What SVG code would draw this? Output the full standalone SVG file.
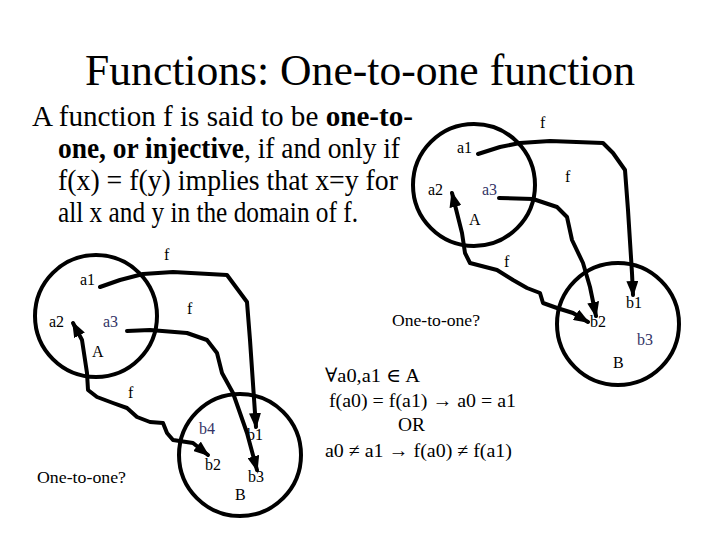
<svg xmlns="http://www.w3.org/2000/svg" width="720" height="540" viewBox="0 0 720 540">
<style>
text{font-family:"Liberation Serif","Tinos","Times New Roman","DejaVu Serif","Noto Serif",serif;fill:#000}
.title{font-size:44px}
.body{font-size:28.5px}
.lbl{font-size:16px}
.nv{fill:#333366}
.math{font-size:19.5px}
.q{font-size:17px}
.set{fill:none;stroke:#000;stroke-width:4}
.arr{fill:none;stroke:#000;stroke-width:4;stroke-linejoin:round;stroke-linecap:round}
</style>
<defs>
<marker id="ah" markerUnits="userSpaceOnUse" markerWidth="16" markerHeight="12" refX="14" refY="6" orient="auto-start-reverse" viewBox="0 0 16 12">
<path d="M0,0 L16,6 L0,12 Z" fill="#000"/>
</marker>
</defs>
<rect width="720" height="540" fill="#fff"/>
<text class="title" x="85" y="85" textLength="550" lengthAdjust="spacingAndGlyphs">Functions: One-to-one function</text>
<g id="definition">
<text class="body" x="32" y="126" textLength="381" lengthAdjust="spacingAndGlyphs">A function f is said to be <tspan font-weight="bold">one-to-</tspan></text>
<text class="body" x="58" y="158" textLength="342" lengthAdjust="spacingAndGlyphs"><tspan font-weight="bold">one, or injective</tspan>, if and only if</text>
<text class="body" x="58" y="190" textLength="340" lengthAdjust="spacingAndGlyphs">f(x) = f(y) implies that x=y for</text>
<text class="body" x="58" y="222" textLength="300" lengthAdjust="spacingAndGlyphs">all x and y in the domain of f.</text>
</g>
<g id="formula">
<text class="math" x="325" y="382" textLength="95" lengthAdjust="spacingAndGlyphs">∀a0,a1 ∈ A</text>
<text class="math" x="329" y="407" textLength="187" lengthAdjust="spacingAndGlyphs">f(a0) = f(a1) → a0 = a1</text>
<text class="math" x="398" y="431" textLength="27" lengthAdjust="spacingAndGlyphs">OR</text>
<text class="math" x="325" y="457" textLength="187" lengthAdjust="spacingAndGlyphs">a0 ≠ a1 → f(a0) ≠ f(a1)</text>
</g>
<g id="left-A">
<circle class="set" cx="96" cy="316" r="61"/>
<text class="lbl" x="80" y="285">a1</text>
<text class="lbl" x="49" y="327">a2</text>
<text class="lbl nv" x="103" y="327">a3</text>
<text class="lbl" x="92" y="357">A</text>
</g>
<g id="left-B">
<circle class="set" cx="240" cy="455" r="61"/>
<text class="lbl nv" x="199" y="434">b4</text>
<text class="lbl" x="247" y="440">b1</text>
<text class="lbl" x="205" y="470">b2</text>
<text class="lbl" x="248" y="482">b3</text>
<text class="lbl" x="235" y="500">B</text>
</g>
<g id="left-question"><text class="q" x="37" y="483" textLength="89" lengthAdjust="spacingAndGlyphs">One-to-one?</text></g>
<g id="right-A">
<circle class="set" cx="474" cy="185" r="61"/>
<text class="lbl" x="457" y="153">a1</text>
<text class="lbl" x="428" y="195">a2</text>
<text class="lbl nv" x="482" y="195">a3</text>
<text class="lbl" x="469" y="225">A</text>
</g>
<g id="right-B">
<circle class="set" cx="618" cy="324" r="61"/>
<text class="lbl" x="626" y="308">b1</text>
<text class="lbl" x="590" y="327">b2</text>
<text class="lbl nv" x="637" y="345">b3</text>
<text class="lbl" x="613" y="368">B</text>
</g>
<g id="right-question"><text class="q" x="392" y="326" textLength="88" lengthAdjust="spacingAndGlyphs">One-to-one?</text></g>
<g id="connectors">
<path class="arr" marker-end="url(#ah)" d="M100,287 L120,280 L143,274 L173,272 L227,275 L247,302 L250,340 L255,413 L256,427"/>
<path class="arr" marker-end="url(#ah)" d="M127,331 L150,330 L187,333 L207,340 L217,353 L222,373 L233,393 L247,433 L257,470"/>
<path class="arr" marker-start="url(#ah)" marker-end="url(#ah)" d="M73,323 L82,340 L87,373 L88,390 L97,397 L113,403 L127,408 L137,417 L150,422 L163,423 L167,433 L173,440 L193,443 L208,455"/>
<text class="lbl" x="164" y="260">f</text>
<text class="lbl" x="187" y="314">f</text>
<text class="lbl" x="128" y="398">f</text>
<path class="arr" marker-end="url(#ah)" d="M478,154 L500,147 L520,143 L550,141 L603,143 L613,153 L625,170 L628,210 L632,273 L633,295"/>
<path class="arr" marker-end="url(#ah)" d="M499,198 L533,199 L557,207 L567,217 L572,240 L583,263 L590,287 L596,316"/>
<path class="arr" marker-start="url(#ah)" marker-end="url(#ah)" d="M452,193 L462,233 L465,253 L470,263 L497,270 L513,280 L527,288 L540,293 L543,303 L557,308 L573,313 L588,322"/>
<text class="lbl" x="540" y="128">f</text>
<text class="lbl" x="565" y="182">f</text>
<text class="lbl" x="504" y="267">f</text>
</g>
</svg>
